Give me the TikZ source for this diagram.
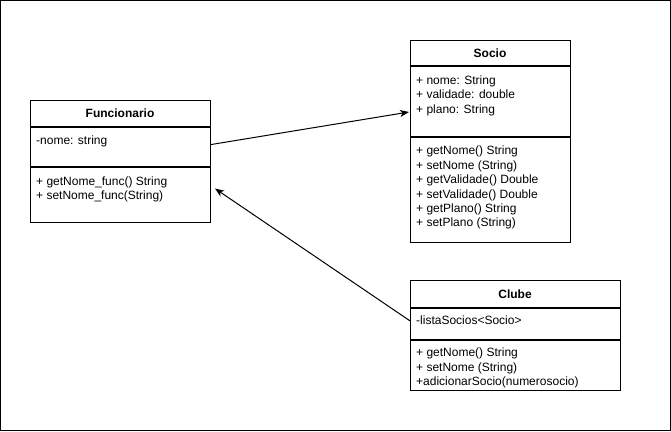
\documentclass[tikz,border=0pt]{standalone}
\usepackage{fontspec}
\setmainfont{Liberation Sans}
\usetikzlibrary{arrows.meta,calc}
\begin{document}
\begin{tikzpicture}[x=1pt,y=-1pt,
  compart/.style={draw=black,line width=1pt,fill=white,rectangle,inner sep=0pt,anchor=north west},
  member/.style={anchor=west,inner sep=0pt,text height=8.6pt,text depth=0pt,font=\fontsize{12}{14.4}\selectfont},
  title/.style={inner sep=0pt,text height=8.6pt,text depth=0pt,font=\fontsize{12}{14.4}\selectfont\bfseries},
  assoc/.style={draw=black,line width=1pt,-{Stealth[length=9pt,width=7pt,inset=2.5pt]}}]
\useasboundingbox (0,0) rectangle (671,431);
\draw[line width=1pt] (0.5,0.5) rectangle (670.5,430.5);

% Funcionario
\node[compart,minimum width=180pt,minimum height=26pt] (funcT) at (30,100) {};
\node[compart,minimum width=180pt,minimum height=38.7pt] (funcA) at (funcT.south west) {};
\node[compart,minimum width=180pt,minimum height=55.3pt] (funcM) at (funcA.south west) {};
\node[title] (funcName) at (120,113) {Funcionario};
\node[member] (fa1) at (36,140.5) {-nome: string};
\node[member] (fm1) at (36,181) {+ getNome\_func() String};
\node[member] (fm2) at (36,195.5) {+ setNome\_func(String)};

% Socio
\node[compart,minimum width=160pt,minimum height=25pt] (socT) at (410,40) {};
\node[compart,minimum width=160pt,minimum height=70pt] (socA) at (socT.south west) {};
\node[compart,minimum width=160pt,minimum height=105pt] (socM) at (socA.south west) {};
\node[title] (socName) at (490,53.5) {Socio};
\node[member] (sa1) at (416,80) {+ nome: String};
\node[member] (sa2) at (416,94.5) {+ validade: double};
\node[member] (sa3) at (416,109) {+ plano: String};
\node[member] (sm1) at (416,150.5) {+ getNome() String};
\node[member] (sm2) at (416,164.9) {+ setNome (String)};
\node[member] (sm3) at (416,179.3) {+ getValidade() Double};
\node[member] (sm4) at (416,193.7) {+ setValidade() Double};
\node[member] (sm5) at (416,208.1) {+ getPlano() String};
\node[member] (sm6) at (416,222.5) {+ setPlano (String)};

% Clube
\node[compart,minimum width=210pt,minimum height=26.7pt] (clT) at (410,280) {};
\node[compart,minimum width=210pt,minimum height=31.3pt] (clA) at (clT.south west) {};
\node[compart,minimum width=210pt,minimum height=50pt] (clM) at (clA.south west) {};
\node[title] (clName) at (515,294) {Clube};
\node[member] (ca1) at (416,320.5) {-listaSocios<Socio>};
\node[member] (cm1) at (416,352.5) {+ getNome() String};
\node[member] (cm2) at (416,367) {+ setNome (String)};
\node[member] (cm3) at (416,381.5) {+adicionarSocio(numerosocio)};

% Associations
\draw[assoc] ($(funcA.east)+(0,-2.3)$) -- ($(socA.west)+(-1,10.5)$);
\draw[assoc] ($(clA.west)+(0,-3)$) -- ($(funcM.east)+(4,-6.3)$);
\end{tikzpicture}
\end{document}
